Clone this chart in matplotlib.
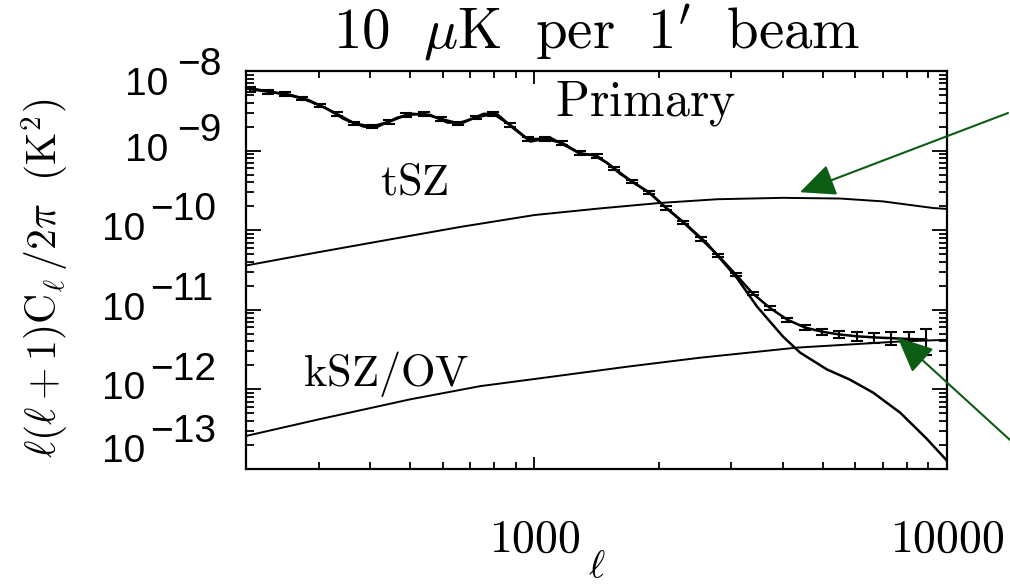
import numpy as np
import matplotlib
matplotlib.use("Agg")
import matplotlib.pyplot as plt
from matplotlib.ticker import LogLocator, NullFormatter, FixedLocator, FixedFormatter

plt.rcParams['mathtext.fontset'] = 'cm'
plt.rcParams['font.family'] = ['DejaVu Serif']

# primary CMB spectrum, l(l+1)C_l/2pi in K^2
ell_prim = [200, 233, 257, 284, 316, 345, 386, 417, 466, 507, 560, 616, 673, 753, 814,
            890, 978, 1093, 1202, 1292, 1389, 1502, 1614, 1736, 1908, 2098, 2346, 2622,
            3099, 3463, 4005, 4404, 5118, 5810, 6623, 7700, 8930, 10000]
cl_prim = [6.2e-9, 5.4e-9, 5.0e-9, 4.3e-9, 3.3e-9, 2.5e-9, 2.0e-9, 2.0e-9, 2.6e-9, 2.9e-9,
           2.8e-9, 2.25e-9, 2.25e-9, 2.9e-9, 2.85e-9, 1.9e-9, 1.3e-9, 1.45e-9, 1.12e-9,
           9.1e-10, 8.8e-10, 7.0e-10, 5.1e-10, 4.0e-10, 2.9e-10, 1.86e-10, 1.15e-10, 6.8e-11,
           2.5e-11, 1.1e-11, 4.6e-12, 2.9e-12, 1.78e-12, 1.33e-12, 9.1e-13, 5.1e-13, 2.4e-13,
           1.27e-13]

# thermal SZ
ell_tsz = [200, 300, 500, 662, 1000, 1445, 2018, 2780, 4000, 5500, 7000, 9250, 10000]
cl_tsz = [3.6e-11, 5.3e-11, 8.5e-11, 1.1e-10, 1.55e-10, 1.88e-10, 2.2e-10, 2.45e-10,
          2.55e-10, 2.5e-10, 2.3e-10, 1.9e-10, 1.85e-10]

# kinetic SZ / OV
ell_ksz = [200, 300, 500, 740, 1000, 1707, 2520, 4330, 7700, 10000]
cl_ksz = [2.6e-13, 4.2e-13, 7.5e-13, 1.1e-12, 1.35e-12, 1.95e-12, 2.5e-12, 3.35e-12,
          4.0e-12, 4.2e-12]

# binned total with error bars
ell_bin = [205, 226, 249, 274, 302, 332, 366, 403, 444, 489, 539, 594, 654, 720, 794, 874,
           963, 1061, 1168, 1287, 1417, 1561, 1720, 1894, 2087, 2298, 2532, 2789, 3072,
           3383, 3727, 4105, 4522, 4981, 5486, 6043, 6657, 7332, 8077, 8896]
cl_bin = [5.9e-9, 5.5e-9, 5.1e-9, 4.5e-9, 3.7e-9, 2.9e-9, 2.2e-9, 2.0e-9, 2.3e-9, 2.8e-9,
          2.9e-9, 2.5e-9, 2.2e-9, 2.6e-9, 2.9e-9, 2.1e-9, 1.4e-9, 1.4e-9, 1.25e-9, 9.3e-10,
          8.6e-10, 6.0e-10, 4.1e-10, 3.0e-10, 1.9e-10, 1.25e-10, 7.8e-11, 4.8e-11, 2.8e-11,
          1.6e-11, 1.05e-11, 7.5e-12, 6.0e-12, 5.3e-12, 4.9e-12, 4.65e-12, 4.5e-12, 4.4e-12,
          4.3e-12, 4.25e-12]
err_frac = [0.07, 0.06, 0.06, 0.05, 0.05, 0.05, 0.05, 0.05, 0.05, 0.05, 0.05, 0.05, 0.05,
            0.05, 0.05, 0.05, 0.05, 0.05, 0.05, 0.05, 0.05, 0.05, 0.05, 0.05, 0.05, 0.05,
            0.05, 0.05, 0.05, 0.05, 0.06, 0.06, 0.07, 0.08, 0.10, 0.12, 0.15, 0.18, 0.23,
            0.36]

green = '#0c5c14'
W, H = 1010, 584

fig = plt.figure(figsize=(W / 100, H / 100), dpi=100)
ax = fig.add_axes([246 / W, 1 - 469 / H, (947 - 246) / W, (469 - 71) / H])

ax.plot(ell_prim, cl_prim, color='k', lw=1.8)
ax.plot(ell_tsz, cl_tsz, color='k', lw=1.4)
ax.plot(ell_ksz, cl_ksz, color='k', lw=1.4)
cl_b = np.array(cl_bin)
ax.errorbar(ell_bin, cl_b, yerr=cl_b * np.array(err_frac), fmt='-', color='k', lw=1.8,
            elinewidth=1.5, capsize=4, capthick=1.5)

ax.set_xscale('log')
ax.set_yscale('log')
ax.set_xlim(200, 10000)
ax.set_ylim(1e-13, 1e-8)

for s in ax.spines.values():
    s.set_linewidth(1.6)

ax.tick_params(which='both', direction='in', top=True, right=True, width=1.3)
ax.tick_params(which='major', axis='y', length=11)
ax.tick_params(which='minor', axis='y', length=6)
ax.tick_params(which='major', axis='x', length=9)
ax.tick_params(which='minor', axis='x', length=5)

ax.xaxis.set_major_locator(FixedLocator([1000, 10000]))
ax.xaxis.set_major_formatter(FixedFormatter([r'$\mathrm{1000}$', r'$\mathrm{10000}$']))
ax.xaxis.set_minor_locator(LogLocator(base=10, subs=np.arange(2, 10), numticks=20))
ax.xaxis.set_minor_formatter(NullFormatter())
ax.tick_params(axis='x', which='major', labelsize=33, pad=34)

ax.yaxis.set_major_locator(LogLocator(base=10, numticks=20))
ax.yaxis.set_minor_locator(LogLocator(base=10, subs=np.arange(2, 10), numticks=20))
ax.yaxis.set_major_formatter(NullFormatter())
ax.yaxis.set_minor_formatter(NullFormatter())

# y tick labels drawn by hand: "10" with a full size raised exponent
ytr = ax.get_yaxis_transform()
for e in range(-13, -7):
    shift = {-8: -0.175, -13: 0.21}.get(e, 0.0)
    yb = 10.0 ** (e + shift)
    ye = 10.0 ** (e + shift + 0.25)
    exp = '\u2212' + str(-e)
    xr = (168 - 246) / 701 if len(exp) == 2 else (145 - 246) / 701
    xl = (177 - 246) / 701 if len(exp) == 2 else (150 - 246) / 701
    ax.text(xr, yb, '10', transform=ytr, ha='right', va='center',
            family='Liberation Sans', fontsize=28)
    ax.text(xl, ye, exp, transform=ytr, ha='left', va='center',
            family='Liberation Sans', fontsize=28)

ax.text(1860, 3.9e-9, r'$\mathrm{Primary}$', fontsize=36, ha='center', va='center')
ax.text(512, 4.0e-10, r'$\mathrm{tSZ}$', fontsize=32, ha='center', va='center')
ax.text(438, 1.55e-12, r'$\mathrm{kSZ/OV}$', fontsize=32, ha='center', va='center')

fig.text(597 / W, 1 - 567 / H, r'$\ell$', fontsize=28, ha='center', va='center')
fig.text(45 / W, 1 - 278 / H, r'$\ell(\ell+1)\mathrm{C}_\ell\,/2\pi\ \ (\mathrm{K}^2)$',
         rotation=90, fontsize=30, ha='center', va='center')

fig.text(597 / W, 1 - 33 / H,
         r'$\mathrm{10}\ \ \mu\mathrm{K}\ \ \mathrm{per}\ \ \mathrm{1}^{\prime}\ \ \mathrm{beam}$',
         fontsize=41, ha='center', va='center')

# green arrows pointing at the SZ curves
ax.annotate('', xy=(4400, 3.0e-10), xytext=(1008 / W, 1 - 113 / H),
            textcoords='figure fraction', annotation_clip=False,
            arrowprops=dict(arrowstyle='-|>,head_length=0.55,head_width=0.25',
                            color=green, lw=1.5, mutation_scale=40, shrinkA=0, shrinkB=0))
ax.annotate('', xy=(7590, 4.5e-12), xytext=(1010 / W, 1 - 440 / H),
            textcoords='figure fraction', annotation_clip=False,
            arrowprops=dict(arrowstyle='-|>,head_length=0.55,head_width=0.25',
                            color=green, lw=1.5, mutation_scale=40, shrinkA=0, shrinkB=0))

fig.savefig('out.png', dpi=100, facecolor='white')
